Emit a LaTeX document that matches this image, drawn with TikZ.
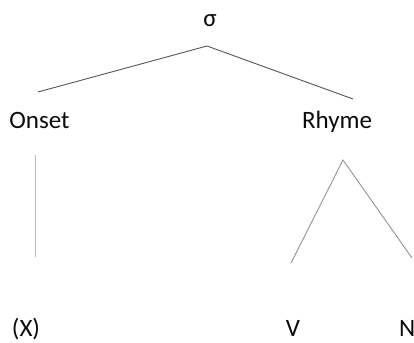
\documentclass[tikz,border=0pt]{standalone}
\usepackage{fontspec}
\setmainfont{Carlito}
\usetikzlibrary{positioning}
\definecolor{inkgray}{RGB}{10,10,10}
\definecolor{branchgray}{RGB}{85,85,85}

\begin{document}
\begin{tikzpicture}[
		x=1pt, y=-1pt,
		seg/.style={inner sep=0pt, anchor=base, text=inkgray,
			font=\fontsize{25}{30}\selectfont},
		branch/.style={draw=branchgray, line width=0.9pt}
	]
		\useasboundingbox (0,0) rectangle (414,342);
		\node[seg] (syl) at (210,27) {σ};
		\node[seg] (onset) at (39.5,128) {Onset};
		\node[seg] (rhyme) at (337,128) {Rhyme};
		\node[seg] (x) at (26,336) {(X)};
		\node[seg] (v) at (293,336) {V};
		\node[seg, anchor=base west] (n) at (399,336) {N};
		% branch points
		\coordinate (syl-top) at (207,46);
		\coordinate (onset-end) at (38,92);
		\coordinate (rhyme-end) at (353,99);
		\coordinate (onset-top) at (35,155);
		\coordinate (x-end) at (35,257);
		\coordinate (rhyme-top) at (343,160);
		\coordinate (v-end) at (291,263);
		\coordinate (n-end) at (412,258);
		\draw[branch] (onset-end) -- (syl-top) -- (rhyme-end);
		\draw[branch, draw=gray!55] (onset-top) -- (x-end);
		\draw[branch, draw=gray!85] (v-end) -- (rhyme-top) -- (n-end);
	\end{tikzpicture}
\end{document}
